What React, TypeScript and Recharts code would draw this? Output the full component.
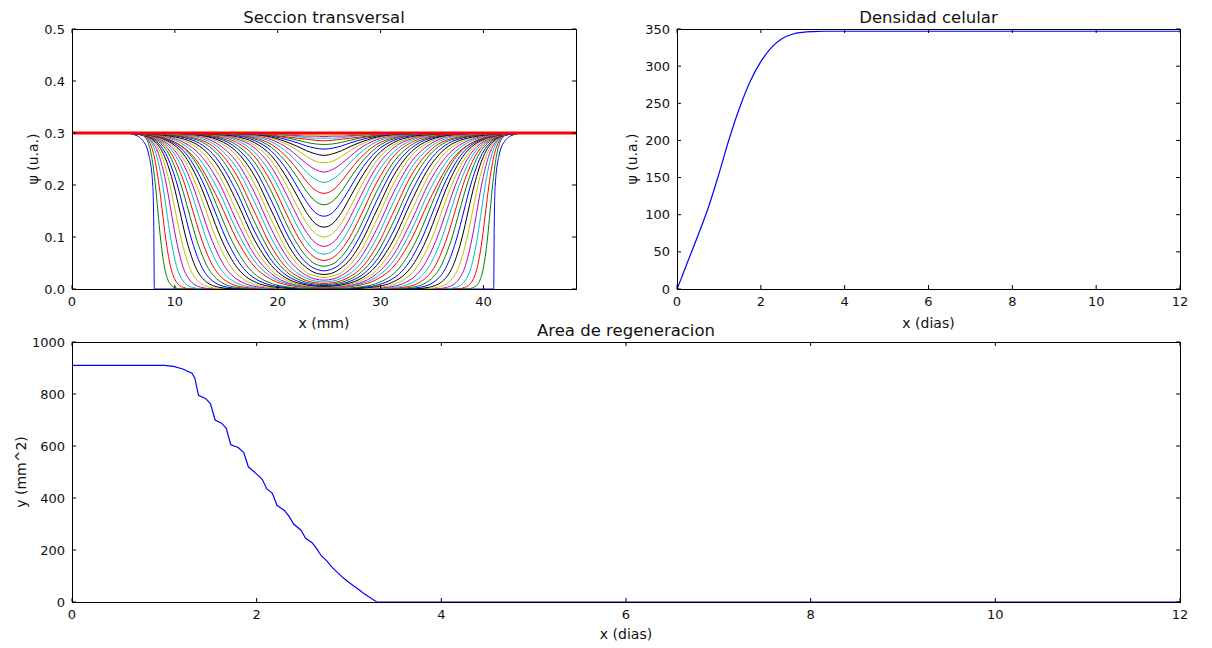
import React from 'react'
import { LineChart, Line, XAxis, YAxis } from 'recharts'

const FONT = '"DejaVu Sans", "Liberation Sans", sans-serif'

// ---------- Seccion transversal ----------
const sectionEdgesX = [0, 49]
const sectionLevels = [0.3, 0.297, 0.285, 0.255, 0.2, 0.15, 0.1, 0.045, 0.015, 0.003, 0]

// x where the initial step and each single advancing front cross the levels above (left edge)
const frontLeftX = [
  [5.0, 6.0, 6.9, 7.5, 7.85, 7.93, 7.96, 7.98, 7.99, 7.995, 8.0],
  [6.08, 6.74, 7.32, 7.74, 8.11, 8.35, 8.59, 8.96, 9.38, 9.96, 10.63],
  [5.85, 6.71, 7.45, 7.99, 8.46, 8.78, 9.09, 9.56, 10.1, 10.84, 11.7],
  [5.63, 6.67, 7.58, 8.25, 8.82, 9.2, 9.58, 10.15, 10.82, 11.73, 12.78],
  [5.4, 6.64, 7.71, 8.5, 9.18, 9.63, 10.08, 10.75, 11.54, 12.61, 13.85],
  [5.18, 6.6, 7.84, 8.75, 9.53, 10.05, 10.57, 11.35, 12.26, 13.5, 14.93],
  [4.95, 6.57, 7.97, 9.0, 9.89, 10.48, 11.06, 11.95, 12.98, 14.38, 16.0],
  [4.73, 6.54, 8.1, 9.25, 10.24, 10.9, 11.56, 12.55, 13.7, 15.27, 17.08],
  [4.63, 6.59, 8.29, 9.54, 10.61, 11.33, 12.04, 13.11, 14.36, 16.06, 18.02],
  [4.54, 6.65, 8.48, 9.82, 10.98, 11.75, 12.52, 13.68, 15.02, 16.85, 18.97],
  [4.44, 6.71, 8.67, 10.11, 11.35, 12.18, 13.0, 14.24, 15.68, 17.64, 19.91],
  [4.35, 6.76, 8.86, 10.4, 11.72, 12.6, 13.48, 14.8, 16.34, 18.44, 20.86],
  [4.25, 6.82, 9.05, 10.68, 12.09, 13.03, 13.96, 15.37, 17.0, 19.23, 21.8],
  [4.22, 6.93, 9.27, 10.99, 12.47, 13.45, 14.43, 15.91, 17.63, 19.98, 22.68],
  [4.19, 7.03, 9.49, 11.29, 12.84, 13.88, 14.91, 16.46, 18.26, 20.72, 23.56],
  [4.23, 7.18, 9.74, 11.61, 13.23, 14.3, 15.37, 16.99, 18.86, 21.42, 24.38],
]

// same levels, right edge of the wound
const frontRightX = [
  [44.0, 43.0, 42.1, 41.5, 41.15, 41.07, 41.04, 41.02, 41.01, 41.005, 41.0],
  [42.92, 42.26, 41.68, 41.26, 40.89, 40.65, 40.41, 40.04, 39.62, 39.04, 38.37],
  [43.15, 42.29, 41.55, 41.01, 40.54, 40.22, 39.91, 39.44, 38.9, 38.16, 37.3],
  [43.37, 42.33, 41.42, 40.75, 40.18, 39.8, 39.42, 38.85, 38.18, 37.27, 36.22],
  [43.6, 42.36, 41.29, 40.5, 39.82, 39.37, 38.92, 38.25, 37.46, 36.39, 35.15],
  [43.82, 42.4, 41.16, 40.25, 39.47, 38.95, 38.43, 37.65, 36.74, 35.5, 34.07],
  [44.05, 42.43, 41.03, 40.0, 39.11, 38.52, 37.94, 37.05, 36.02, 34.62, 33.0],
  [44.27, 42.46, 40.9, 39.75, 38.76, 38.1, 37.44, 36.45, 35.3, 33.73, 31.92],
  [44.37, 42.41, 40.71, 39.46, 38.39, 37.67, 36.96, 35.89, 34.64, 32.94, 30.98],
  [44.46, 42.35, 40.52, 39.18, 38.02, 37.25, 36.48, 35.32, 33.98, 32.15, 30.03],
  [44.56, 42.29, 40.33, 38.89, 37.65, 36.82, 36.0, 34.76, 33.32, 31.36, 29.09],
  [44.65, 42.24, 40.14, 38.6, 37.28, 36.4, 35.52, 34.2, 32.66, 30.56, 28.14],
  [44.75, 42.18, 39.95, 38.32, 36.91, 35.97, 35.04, 33.63, 32.0, 29.77, 27.2],
  [44.78, 42.07, 39.73, 38.01, 36.53, 35.55, 34.57, 33.09, 31.37, 29.02, 26.32],
  [44.81, 41.97, 39.51, 37.71, 36.16, 35.12, 34.09, 32.54, 30.74, 28.28, 25.44],
  [44.77, 41.82, 39.26, 37.39, 35.77, 34.7, 33.63, 32.01, 30.14, 27.58, 24.62],
]

// profiles once the two fronts overlap and the wound centre fills
const fillGridX = [0, 5.5, 8.35, 11.75, 14.3, 16.0, 17.7, 19.4, 21.1, 21.95, 22.8, 23.65, 24.5, 25.35, 26.2, 27.05, 27.9, 29.6, 31.3, 33.0, 34.7, 37.25, 40.65, 43.5, 49]
const fillProfiles = [
  [0.3, 0.3, 0.293, 0.256, 0.169, 0.096, 0.044, 0.018, 0.007, 0.0044, 0.0029, 0.0021, 0.0019, 0.0021, 0.0029, 0.0044, 0.007, 0.018, 0.044, 0.096, 0.169, 0.256, 0.293, 0.3, 0.3],
  [0.3, 0.3, 0.295, 0.264, 0.187, 0.113, 0.055, 0.023, 0.009, 0.0057, 0.0038, 0.0028, 0.0025, 0.0028, 0.0038, 0.0057, 0.009, 0.023, 0.055, 0.113, 0.187, 0.264, 0.295, 0.3, 0.3],
  [0.3, 0.3, 0.296, 0.271, 0.204, 0.131, 0.067, 0.029, 0.011, 0.0073, 0.0048, 0.0035, 0.0031, 0.0035, 0.0048, 0.0073, 0.011, 0.029, 0.067, 0.131, 0.204, 0.271, 0.296, 0.3, 0.3],
  [0.3, 0.3, 0.297, 0.277, 0.219, 0.15, 0.081, 0.036, 0.0145, 0.0092, 0.0061, 0.0045, 0.004, 0.0045, 0.0061, 0.0092, 0.0145, 0.036, 0.081, 0.15, 0.219, 0.277, 0.297, 0.3, 0.3],
  [0.3, 0.3, 0.297, 0.282, 0.233, 0.169, 0.096, 0.045, 0.018, 0.0117, 0.0078, 0.0057, 0.0051, 0.0057, 0.0078, 0.0117, 0.018, 0.045, 0.096, 0.169, 0.233, 0.282, 0.297, 0.3, 0.3],
  [0.3, 0.3, 0.298, 0.286, 0.245, 0.187, 0.113, 0.055, 0.023, 0.015, 0.01, 0.0074, 0.0066, 0.0074, 0.01, 0.015, 0.023, 0.055, 0.113, 0.187, 0.245, 0.286, 0.298, 0.3, 0.3],
  [0.3, 0.3, 0.298, 0.289, 0.256, 0.204, 0.131, 0.067, 0.029, 0.019, 0.0127, 0.0094, 0.0083, 0.0094, 0.0127, 0.019, 0.029, 0.067, 0.131, 0.204, 0.256, 0.289, 0.298, 0.3, 0.3],
  [0.3, 0.3, 0.299, 0.291, 0.264, 0.219, 0.15, 0.081, 0.036, 0.024, 0.016, 0.012, 0.0107, 0.012, 0.016, 0.024, 0.036, 0.081, 0.15, 0.219, 0.264, 0.291, 0.299, 0.3, 0.3],
  [0.3, 0.3, 0.299, 0.293, 0.271, 0.233, 0.169, 0.097, 0.045, 0.03, 0.0205, 0.0152, 0.0136, 0.0152, 0.0205, 0.03, 0.045, 0.097, 0.169, 0.233, 0.271, 0.293, 0.299, 0.3, 0.3],
  [0.3, 0.3, 0.299, 0.295, 0.277, 0.245, 0.187, 0.114, 0.056, 0.038, 0.026, 0.019, 0.017, 0.019, 0.026, 0.038, 0.056, 0.114, 0.187, 0.245, 0.277, 0.295, 0.299, 0.3, 0.3],
  [0.3, 0.3, 0.299, 0.296, 0.282, 0.256, 0.204, 0.132, 0.068, 0.047, 0.032, 0.025, 0.022, 0.025, 0.032, 0.047, 0.068, 0.132, 0.204, 0.256, 0.282, 0.296, 0.299, 0.3, 0.3],
  [0.3, 0.3, 0.3, 0.297, 0.286, 0.264, 0.219, 0.15, 0.082, 0.057, 0.041, 0.031, 0.028, 0.031, 0.041, 0.057, 0.082, 0.15, 0.219, 0.264, 0.286, 0.297, 0.3, 0.3, 0.3],
  [0.3, 0.3, 0.3, 0.297, 0.289, 0.271, 0.233, 0.169, 0.098, 0.07, 0.05, 0.039, 0.035, 0.039, 0.05, 0.07, 0.098, 0.169, 0.233, 0.271, 0.289, 0.297, 0.3, 0.3, 0.3],
  [0.3, 0.3, 0.3, 0.298, 0.291, 0.277, 0.245, 0.187, 0.115, 0.085, 0.062, 0.048, 0.044, 0.048, 0.062, 0.085, 0.115, 0.187, 0.245, 0.277, 0.291, 0.298, 0.3, 0.3, 0.3],
  [0.3, 0.3, 0.3, 0.298, 0.293, 0.282, 0.256, 0.204, 0.134, 0.101, 0.076, 0.06, 0.055, 0.06, 0.076, 0.101, 0.134, 0.204, 0.256, 0.282, 0.293, 0.298, 0.3, 0.3, 0.3],
  [0.3, 0.3, 0.3, 0.299, 0.295, 0.286, 0.264, 0.22, 0.153, 0.119, 0.091, 0.073, 0.067, 0.073, 0.091, 0.119, 0.153, 0.22, 0.264, 0.286, 0.295, 0.299, 0.3, 0.3, 0.3],
  [0.3, 0.3, 0.3, 0.299, 0.296, 0.289, 0.272, 0.234, 0.172, 0.138, 0.109, 0.089, 0.082, 0.089, 0.109, 0.138, 0.172, 0.234, 0.272, 0.289, 0.296, 0.299, 0.3, 0.3, 0.3],
  [0.3, 0.3, 0.3, 0.299, 0.297, 0.291, 0.277, 0.246, 0.19, 0.157, 0.127, 0.107, 0.1, 0.107, 0.127, 0.157, 0.19, 0.246, 0.277, 0.291, 0.297, 0.299, 0.3, 0.3, 0.3],
  [0.3, 0.3, 0.3, 0.299, 0.297, 0.293, 0.282, 0.256, 0.207, 0.177, 0.147, 0.126, 0.119, 0.126, 0.147, 0.177, 0.207, 0.256, 0.282, 0.293, 0.297, 0.299, 0.3, 0.3, 0.3],
  [0.3, 0.3, 0.3, 0.3, 0.298, 0.295, 0.286, 0.265, 0.223, 0.195, 0.168, 0.147, 0.14, 0.147, 0.168, 0.195, 0.223, 0.265, 0.286, 0.295, 0.298, 0.3, 0.3, 0.3, 0.3],
  [0.3, 0.3, 0.3, 0.3, 0.298, 0.296, 0.289, 0.272, 0.237, 0.213, 0.188, 0.169, 0.162, 0.169, 0.188, 0.213, 0.237, 0.272, 0.289, 0.296, 0.298, 0.3, 0.3, 0.3, 0.3],
  [0.3, 0.3, 0.3, 0.3, 0.299, 0.297, 0.291, 0.278, 0.249, 0.229, 0.207, 0.19, 0.184, 0.19, 0.207, 0.229, 0.249, 0.278, 0.291, 0.297, 0.299, 0.3, 0.3, 0.3, 0.3],
  [0.3, 0.3, 0.3, 0.3, 0.299, 0.297, 0.293, 0.283, 0.26, 0.243, 0.225, 0.211, 0.205, 0.211, 0.225, 0.243, 0.26, 0.283, 0.293, 0.297, 0.299, 0.3, 0.3, 0.3, 0.3],
  [0.3, 0.3, 0.3, 0.3, 0.299, 0.298, 0.295, 0.287, 0.269, 0.255, 0.241, 0.23, 0.225, 0.23, 0.241, 0.255, 0.269, 0.287, 0.295, 0.298, 0.299, 0.3, 0.3, 0.3, 0.3],
  [0.3, 0.3, 0.3, 0.3, 0.299, 0.299, 0.296, 0.29, 0.276, 0.266, 0.255, 0.246, 0.243, 0.246, 0.255, 0.266, 0.276, 0.29, 0.296, 0.299, 0.299, 0.3, 0.3, 0.3, 0.3],
  [0.3, 0.3, 0.3, 0.3, 0.3, 0.299, 0.297, 0.292, 0.281, 0.274, 0.266, 0.26, 0.257, 0.26, 0.266, 0.274, 0.281, 0.292, 0.297, 0.299, 0.3, 0.3, 0.3, 0.3, 0.3],
  [0.3, 0.3, 0.3, 0.3, 0.3, 0.299, 0.297, 0.294, 0.286, 0.281, 0.275, 0.271, 0.269, 0.271, 0.275, 0.281, 0.286, 0.294, 0.297, 0.299, 0.3, 0.3, 0.3, 0.3, 0.3],
  [0.3, 0.3, 0.3, 0.3, 0.3, 0.299, 0.298, 0.295, 0.29, 0.286, 0.282, 0.279, 0.278, 0.279, 0.282, 0.286, 0.29, 0.295, 0.298, 0.299, 0.3, 0.3, 0.3, 0.3, 0.3],
  [0.3, 0.3, 0.3, 0.3, 0.3, 0.3, 0.299, 0.296, 0.292, 0.29, 0.288, 0.286, 0.285, 0.286, 0.288, 0.29, 0.292, 0.296, 0.299, 0.3, 0.3, 0.3, 0.3, 0.3, 0.3],
  [0.3, 0.3, 0.3, 0.3, 0.3, 0.3, 0.299, 0.297, 0.295, 0.293, 0.291, 0.29, 0.29, 0.29, 0.291, 0.293, 0.295, 0.297, 0.299, 0.3, 0.3, 0.3, 0.3, 0.3, 0.3],
  [0.3, 0.3, 0.3, 0.3, 0.3, 0.3, 0.299, 0.298, 0.296, 0.295, 0.294, 0.294, 0.293, 0.294, 0.294, 0.295, 0.296, 0.298, 0.299, 0.3, 0.3, 0.3, 0.3, 0.3, 0.3],
  [0.3, 0.3, 0.3, 0.3, 0.3, 0.3, 0.299, 0.2985, 0.297, 0.297, 0.296, 0.296, 0.296, 0.296, 0.296, 0.297, 0.297, 0.2985, 0.299, 0.3, 0.3, 0.3, 0.3, 0.3, 0.3],
]

// last (steady) profile, drawn on top in red
const finalProfileX = [0, 49]
const finalProfileY = [0.3, 0.3]
const finalProfileColor = '#ff0000'

const sectionXTicks = [0, 10, 20, 30, 40]
const sectionYTicks = [0, 0.1, 0.2, 0.3, 0.4, 0.5]

// matplotlib classic colour cycle
const classicColors = ['#0000ff', '#008000', '#ff0000', '#00bfbf', '#bf00bf', '#bfbf00', '#000000']

// ---------- Densidad celular ----------
const densityDays = [0, 0.1, 0.25, 0.5, 0.75, 1, 1.25, 1.5, 1.75, 2, 2.25, 2.5, 2.75, 3, 3.25, 3.5, 3.75, 4, 5, 6, 7, 8, 9, 10, 11, 12]
const densityValues = [0, 14, 36, 72, 110, 155, 203, 245, 280, 306, 325, 337, 343, 345.5, 346.5, 347, 347, 347, 347, 347, 347, 347, 347, 347, 347, 347]
const dayTicks = [0, 2, 4, 6, 8, 10, 12]
const densityYTicks = [0, 50, 100, 150, 200, 250, 300, 350]

// ---------- Area de regeneracion ----------
const areaDays = [
  0, 0.5, 1.0, 1.1, 1.2, 1.3, 1.33, 1.37, 1.45, 1.5, 1.55, 1.62, 1.67, 1.72, 1.8, 1.86, 1.91, 2.0, 2.06, 2.11,
  2.17, 2.22, 2.3, 2.35, 2.4, 2.48, 2.53, 2.6, 2.65, 2.7, 2.76, 2.82, 2.88, 2.94, 3.0, 3.09, 3.15, 3.21, 3.3, 3.5, 12,
]
const areaValues = [
  910, 910, 910, 906, 896, 880, 862, 795, 782, 762, 700, 688, 668, 605, 594, 575, 520, 492, 472, 435,
  418, 372, 352, 330, 300, 276, 245, 228, 205, 178, 158, 132, 112, 92, 75, 52, 36, 21, 0, 0, 0,
]
const areaYTicks = [0, 200, 400, 600, 800, 1000]

type Pt = { x: number; y: number }

const sectionProfiles: Pt[][] = [
  ...frontLeftX.map((left, i) => [
    { x: sectionEdgesX[0], y: sectionLevels[0] },
    ...left.map((x, j) => ({ x, y: sectionLevels[j] })),
    ...frontRightX[i].map((x, j) => ({ x, y: sectionLevels[j] })).reverse(),
    { x: sectionEdgesX[1], y: sectionLevels[0] },
  ]),
  ...fillProfiles.map((row) => row.map((y, j) => ({ x: fillGridX[j], y }))),
]
const finalProfile: Pt[] = finalProfileX.map((x, j) => ({ x, y: finalProfileY[j] }))

const densityData = densityDays.map((x, i) => ({ x, y: densityValues[i] }))
const areaData = areaDays.map((x, i) => ({ x, y: areaValues[i] }))

const TICK_FONT = 13
const TICK_LEN = 4

const xTick = (plotTop: number, fmt: (v: number) => string) => (props: any) => {
  const { x, y, payload } = props
  return (
    <g>
      <line x1={x} x2={x} y1={y} y2={y - TICK_LEN} stroke="#000" />
      <line x1={x} x2={x} y1={plotTop} y2={plotTop + TICK_LEN} stroke="#000" />
      <text x={x} y={y + 17} textAnchor="middle" fontSize={TICK_FONT} fontFamily={FONT} fill="#111">
        {fmt(payload.value)}
      </text>
    </g>
  )
}

const yTick = (plotRight: number, fmt: (v: number) => string) => (props: any) => {
  const { x, y, payload } = props
  return (
    <g>
      <line x1={x} x2={x + TICK_LEN} y1={y} y2={y} stroke="#000" />
      <line x1={plotRight} x2={plotRight - TICK_LEN} y1={y} y2={y} stroke="#000" />
      <text x={x - 7} y={y + 4.5} textAnchor="end" fontSize={TICK_FONT} fontFamily={FONT} fill="#111">
        {fmt(payload.value)}
      </text>
    </g>
  )
}

const intFmt = (v: number) => String(v)
const oneDec = (v: number) => v.toFixed(1)

function Frame({ left, top, right, bottom }: { left: number; top: number; right: number; bottom: number }) {
  return (
    <div
      style={{
        position: 'absolute',
        left,
        top,
        width: right - left + 1,
        height: bottom - top + 1,
        border: '1px solid #000',
        boxSizing: 'border-box',
        pointerEvents: 'none',
      }}
    />
  )
}

function Label({ x, y, text, size = 14, rotate = false }: { x: number; y: number; text: string; size?: number; rotate?: boolean }) {
  return (
    <div
      style={{
        position: 'absolute',
        left: x,
        top: y,
        transform: `translate(-50%, -50%)${rotate ? ' rotate(-90deg)' : ''}`,
        fontFamily: FONT,
        fontSize: size,
        lineHeight: `${size}px`,
        whiteSpace: 'nowrap',
        color: '#111',
      }}
    >
      {text}
    </div>
  )
}

export default function App() {
  return (
    <div style={{ position: 'absolute', left: 0, top: 0, width: 1212, height: 648, background: '#fff', overflow: 'hidden' }}>
      {/* top left: cross-section profiles */}
      <div style={{ position: 'absolute', left: 0, top: 0 }}>
        <LineChart width={600} height={340} margin={{ top: 29, right: 24, bottom: 21, left: 22 }}>
          <XAxis
            type="number"
            dataKey="x"
            domain={[0, 49]}
            ticks={sectionXTicks}
            interval={0}
            axisLine={false}
            tickLine={false}
            tickSize={0}
            tickMargin={0}
            height={30}
            tick={xTick(29, intFmt)}
          />
          <YAxis
            type="number"
            dataKey="y"
            domain={[0, 0.5]}
            ticks={sectionYTicks}
            interval={0}
            axisLine={false}
            tickLine={false}
            tickSize={0}
            tickMargin={0}
            width={50}
            tick={yTick(576, oneDec)}
          />
          {sectionProfiles.map((pts, i) => (
            <Line
              key={i}
              data={pts}
              dataKey="y"
              type="monotone"
              stroke={classicColors[i % classicColors.length]}
              strokeWidth={1}
              dot={false}
              isAnimationActive={false}
            />
          ))}
          <Line
            data={finalProfile}
            dataKey="y"
            type="linear"
            stroke={finalProfileColor}
            strokeWidth={3}
            dot={false}
            isAnimationActive={false}
          />
        </LineChart>
      </div>

      {/* top right: cell density */}
      <div style={{ position: 'absolute', left: 600, top: 0 }}>
        <LineChart width={612} height={340} margin={{ top: 29, right: 32, bottom: 21, left: 27 }}>
          <XAxis
            type="number"
            dataKey="x"
            domain={[0, 12]}
            ticks={dayTicks}
            interval={0}
            axisLine={false}
            tickLine={false}
            tickSize={0}
            tickMargin={0}
            height={30}
            tick={xTick(29, intFmt)}
          />
          <YAxis
            type="number"
            dataKey="y"
            domain={[0, 350]}
            ticks={densityYTicks}
            interval={0}
            axisLine={false}
            tickLine={false}
            tickSize={0}
            tickMargin={0}
            width={50}
            tick={yTick(580, intFmt)}
          />
          <Line data={densityData} dataKey="y" type="monotone" stroke="#0000ff" strokeWidth={1.2} dot={false} isAnimationActive={false} />
        </LineChart>
      </div>

      {/* bottom: regeneration area */}
      <div style={{ position: 'absolute', left: 0, top: 320 }}>
        <LineChart width={1212} height={328} margin={{ top: 22, right: 32, bottom: 16, left: 22 }}>
          <XAxis
            type="number"
            dataKey="x"
            domain={[0, 12]}
            ticks={dayTicks}
            interval={0}
            axisLine={false}
            tickLine={false}
            tickSize={0}
            tickMargin={0}
            height={30}
            tick={xTick(22, intFmt)}
          />
          <YAxis
            type="number"
            dataKey="y"
            domain={[0, 1000]}
            ticks={areaYTicks}
            interval={0}
            axisLine={false}
            tickLine={false}
            tickSize={0}
            tickMargin={0}
            width={50}
            tick={yTick(1180, intFmt)}
          />
          <Line data={areaData} dataKey="y" type="linear" stroke="#0000ff" strokeWidth={1.2} dot={false} isAnimationActive={false} />
        </LineChart>
      </div>

      <Frame left={72} top={29} right={576} bottom={289} />
      <Frame left={677} top={29} right={1180} bottom={289} />
      <Frame left={72} top={342} right={1180} bottom={602} />

      <Label x={324} y={18} text="Seccion transversal" size={16.5} />
      <Label x={928.5} y={18} text="Densidad celular" size={16.5} />
      <Label x={626} y={331} text="Area de regeneracion" size={16.5} />

      <Label x={324} y={323} text="x (mm)" />
      <Label x={928.5} y={323} text="x (dias)" />
      <Label x={626} y={634} text="x (dias)" />

      <Label x={33} y={159} text="ψ (u.a.)" rotate />
      <Label x={632} y={159} text="ψ (u.a.)" rotate />
      <Label x={21} y={472} text="y (mm^2)" rotate />
    </div>
  )
}
